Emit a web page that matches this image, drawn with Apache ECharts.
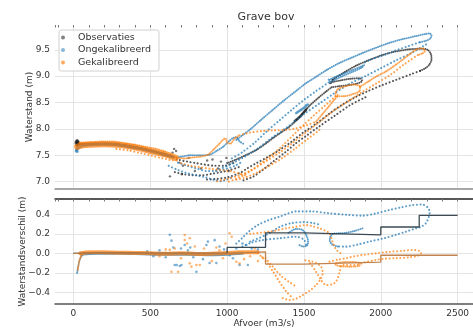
<!DOCTYPE html>
<html><head><meta charset="utf-8">
<script src="https://cdn.jsdelivr.net/npm/echarts@6/dist/echarts.min.js"></script>
<style>html,body{margin:0;padding:0;background:#fff}#c{width:473px;height:331px}</style>
</head><body><div id="c"></div>
<script>
const chartTitle = 'Grave bov';
const seriesNames = ['Observaties', 'Ongekalibreerd', 'Gekalibreerd'];
const xName = 'Afvoer (m3/s)';
const yNameTop = 'Waterstand (m)';
const yNameBot = 'Waterstandsverschil (m)';

// ---------- top panel: Observaties ----------
const obsTopStart = [[16,7.73],[18,7.76],[20,7.70],[21,7.75],[23,7.78],[24,7.72],[26,7.68],[27,7.74],[29,7.77],[30,7.71],[33,7.74]];
const obsTopBand = [[30,7.71],[80,7.71],[150,7.72],[230,7.72],[300,7.70],[360,7.67],[420,7.64],[480,7.60],[540,7.56],[600,7.51],[650,7.47]];
const obsTopMidA = [[630,7.5],[680,7.42],[740,7.38],[800,7.35],[860,7.32],[920,7.3],[980,7.3],[1040,7.35]];
const obsTopMidB = [[660,7.18],[720,7.14],[780,7.12],[840,7.12],[900,7.15],[960,7.18],[1020,7.22],[1080,7.28]];
const obsTopMidDots = [[628,7.1],[645,7.55],[655,7.62],[668,7.58],[690,7.36],[705,7.14],[712,7.3],[750,7.45],[790,7.2],[830,7.25],[870,7.4],[905,7.42],[940,7.25],[960,7.38],[995,7.45],[1010,7.2]];
const obsTopRise = [[1000,7.35],[1060,7.42],[1120,7.5],[1190,7.6],[1250,7.72],[1300,7.83],[1350,7.93],[1400,8.03],[1450,8.16],[1500,8.32],[1540,8.45],[1590,8.58],[1640,8.70],[1680,8.79]];
const obsTopLoop = [[1680,8.79],[1730,8.81],[1790,8.83],[1845,8.86],[1878,8.91],[1865,8.96],[1800,8.95],[1740,8.92],[1690,8.89],[1668,8.86],[1690,8.94]];
const obsTopUpper = [[1690,8.94],[1760,9.07],[1840,9.2],[1920,9.3],[2010,9.4],[2100,9.47],[2190,9.51],[2260,9.52],[2305,9.5],[2326,9.42],[2330,9.32],[2316,9.22],[2290,9.15],[2255,9.1]];
const obsTopBlob = [[1440,8.15],[1470,8.22],[1495,8.3],[1515,8.37]];
const obsTopFallA = [[2255,9.1],[2200,9.04],[2100,8.93],[2010,8.83],[1920,8.72],[1840,8.61],[1750,8.46],[1670,8.30],[1580,8.10],[1490,7.92],[1420,7.76],[1340,7.60],[1260,7.46],[1190,7.35],[1130,7.25],[1080,7.16],[1000,7.08],[930,7.05],[860,7.04]];
const obsTopFallB = [[1900,8.6],[1800,8.45],[1700,8.25],[1600,8.05],[1520,7.88],[1449,7.73],[1380,7.56],[1300,7.38],[1230,7.22],[1166,7.09],[1100,7.02]];

// ---------- top panel: Ongekalibreerd ----------
const uncTopStart = [[18,7.58],[20,7.6],[22,7.63],[25,7.57]];
const uncTopBand = [[25,7.62],[50,7.67],[100,7.70],[200,7.71],[300,7.69],[400,7.64],[500,7.58],[580,7.52],[640,7.47]];
const uncTopMid = [[600,7.52],[650,7.46],[700,7.47],[760,7.5],[820,7.5],[886,7.51],[930,7.58],[973,7.66],[1010,7.76],[1040,7.83],[1062,7.84],[1082,7.76],[1105,7.72]];
const uncTopMidLow = [[620,7.3],[680,7.22],[740,7.16],[800,7.12],[860,7.08],[920,7.03],[960,7.01],[1000,7.04],[1040,7.1]];
const uncTopMidLow2 = [[680,7.36],[740,7.3],[800,7.25],[865,7.2],[930,7.2],[990,7.24],[1050,7.3],[1100,7.38]];
const uncTopRise = [[1060,7.79],[1100,7.88],[1146,7.98],[1220,8.17],[1297,8.36],[1370,8.54],[1449,8.72],[1510,8.86],[1580,8.99],[1650,9.12],[1731,9.25],[1810,9.35],[1882,9.44],[1970,9.54],[2055,9.63],[2140,9.7],[2229,9.76],[2290,9.8],[2318,9.81],[2330,9.77],[2320,9.71],[2294,9.67],[2250,9.64]];
const uncTopReturn = [[2250,9.64],[2180,9.57],[2099,9.49],[2040,9.42],[1990,9.37],[1930,9.31],[1882,9.24]];
const uncTopLoop = [[1666,8.93],[1700,8.98],[1760,9.05],[1820,9.12],[1870,9.18],[1892,9.21],[1875,9.16],[1815,9.08],[1750,9.0],[1700,8.93],[1672,8.89],[1660,8.94]];
const uncTopFallA = [[2294,9.6],[2200,9.44],[2100,9.3],[2000,9.15],[1900,9.0],[1800,8.86],[1700,8.68],[1600,8.48],[1500,8.28],[1400,8.05],[1300,7.85],[1200,7.63],[1100,7.45],[1000,7.3],[920,7.2]];
const uncTopFallB = [[1660,8.88],[1580,8.72],[1500,8.55],[1420,8.36],[1340,8.16],[1260,7.96],[1180,7.74],[1100,7.56],[1030,7.44]];
const uncTopBlob = [[1450,8.3],[1475,8.35],[1500,8.4],[1525,8.46],[1512,8.44]];

// ---------- top panel: Gekalibreerd ----------
const calTopBand = [[24,7.66],[60,7.69],[120,7.70],[200,7.71],[280,7.70],[360,7.67],[430,7.63],[500,7.58],[560,7.54],[620,7.5],[665,7.45]];
const calTopBandHigh = [[40,7.74],[110,7.75],[190,7.76],[260,7.76],[330,7.73],[400,7.7],[470,7.66],[540,7.62],[600,7.57]];
const calTopBandLow = [[280,7.62],[360,7.59],[440,7.54],[510,7.49],[570,7.45],[630,7.41],[680,7.4]];
const calTopMid = [[660,7.46],[720,7.44],[780,7.46],[840,7.48],[880,7.52],[915,7.62],[950,7.72],[975,7.8],[990,7.82],[1000,7.74],[1020,7.72],[1050,7.82],[1081,7.88]];
const calTopShelf = [[1081,7.88],[1150,7.93],[1232,7.96],[1300,7.97],[1384,7.98],[1449,8.01],[1520,8.07],[1579,8.14]];
const calTopRise = [[1579,8.14],[1620,8.28],[1660,8.42],[1700,8.56],[1720,8.62]];
const calTopLoop = [[1705,8.62],[1760,8.62],[1820,8.66],[1862,8.72],[1865,8.8],[1820,8.84],[1760,8.8],[1720,8.75],[1705,8.68],[1720,8.64]];
const calTopPeak = [[1865,8.8],[1920,8.9],[1969,8.99],[2034,9.09],[2090,9.2],[2141,9.31],[2190,9.42],[2229,9.5],[2261,9.53],[2282,9.51],[2286,9.47],[2270,9.43],[2240,9.4]];
const calTopFallA = [[2240,9.4],[2150,9.22],[2060,9.02],[1970,8.86],[1880,8.7],[1790,8.53],[1700,8.36],[1610,8.15],[1520,7.95],[1430,7.74],[1340,7.55],[1250,7.38],[1160,7.22],[1080,7.12],[1000,7.05],[920,7.0]];
const calTopFallB = [[1705,8.62],[1640,8.45],[1570,8.27],[1500,8.08],[1430,7.88],[1360,7.68],[1290,7.5],[1220,7.35],[1150,7.2],[1080,7.08],[1010,7.0]];
const calTopFallC = [[1600,7.98],[1520,7.8],[1440,7.62],[1360,7.45],[1280,7.31],[1200,7.18],[1120,7.08],[1050,7.03]];
const calTopMidLow = [[700,7.35],[760,7.3],[830,7.27],[900,7.24],[960,7.22],[1020,7.2],[1080,7.15],[1125,7.11]];

// ---------- bottom panel: Ongekalibreerd ----------
const uncBotHook = [[24,-0.2],[28,-0.16],[33,-0.12],[38,-0.08],[45,-0.05],[52,-0.03],[62,-0.01]];
const uncBotBand = [[50,-0.01],[150,0.0],[300,0.0],[450,-0.005],[600,-0.01],[750,-0.01],[900,-0.015],[1000,-0.01],[1100,0.0]];
const uncBotDots = [[627,0.19],[638,0.13],[650,0.06],[659,-0.12],[672,-0.12],[692,-0.13],[703,-0.12],[724,0.085],[745,0.03],[780,-0.04],[800,-0.19],[843,-0.06],[865,0.085],[875,0.12],[886,-0.1],[919,0.135],[930,-0.1],[951,0.07],[980,0.04],[1016,-0.02],[1038,-0.05],[1060,0.05],[1081,-0.12],[1100,0.1],[1125,0.085],[1135,-0.12],[1160,0.05],[1200,0.04],[560,0.03],[520,-0.03],[480,0.02],[600,-0.04],[700,0.05],[760,0.06]];
const uncBotArcA = [[1060,0.1],[1100,0.16],[1146,0.23],[1200,0.29],[1270,0.34],[1341,0.376],[1400,0.41],[1449,0.43],[1550,0.43],[1666,0.41],[1780,0.395],[1882,0.386],[1970,0.41],[2055,0.444],[2130,0.47],[2207,0.495],[2271,0.5],[2305,0.47],[2318,0.42],[2312,0.37],[2294,0.31],[2260,0.27],[2229,0.256],[2160,0.22],[2099,0.19],[2010,0.15],[1925,0.12],[1850,0.09],[1774,0.068],[1720,0.07]];
const uncBotHookR = [[1720,0.07],[1685,0.09],[1668,0.13],[1672,0.17],[1690,0.2],[1730,0.205],[1774,0.21],[1830,0.23],[1882,0.256]];
const uncBotArcB = [[1150,0.12],[1255,0.19],[1341,0.27],[1420,0.31],[1500,0.32],[1560,0.31],[1610,0.29]];
const uncBotLoop = [[1400,0.21],[1449,0.25],[1490,0.24],[1514,0.19],[1527,0.12],[1520,0.08],[1492,0.07],[1465,0.09]];
const uncBotArcD = [[1100,0.07],[1160,0.11],[1232,0.136],[1341,0.154],[1449,0.17],[1500,0.14],[1514,0.085]];

// ---------- bottom panel: Gekalibreerd ----------
const calBotHook = [[28,-0.17],[32,-0.13],[38,-0.08],[45,-0.045],[55,-0.015],[70,0.005]];
const calBotBand = [[45,0.0],[100,0.012],[200,0.012],[300,0.006],[400,0.004],[500,0.0],[600,-0.004],[700,0.0],[800,-0.006],[900,-0.004],[1000,0.002],[1100,0.01],[1200,0.01]];
const calBotDots = [[627,0.035],[638,-0.19],[660,0.05],[681,-0.19],[724,0.136],[724,0.188],[740,0.1],[757,0.154],[757,-0.103],[768,-0.137],[790,0.07],[800,-0.12],[822,-0.12],[850,0.05],[900,-0.08],[930,0.06],[973,-0.051],[990,0.1],[1016,0.205],[1030,0.17],[1060,-0.086],[1081,-0.103],[1110,-0.06],[1150,-0.03],[1180,0.05],[1200,-0.08],[1230,-0.04],[560,-0.03],[600,0.04],[700,-0.05],[950,0.03]];
const calBotUpper = [[1150,0.2],[1276,0.222],[1384,0.256],[1449,0.273],[1514,0.29],[1560,0.275],[1601,0.256],[1640,0.23],[1666,0.205],[1680,0.15],[1695,0.08],[1715,0.03],[1740,0.0]];
const calBotRight = [[1666,-0.086],[1720,-0.065],[1774,-0.05],[1830,-0.03],[1882,-0.017],[1970,0.0],[2055,0.016],[2140,0.025],[2207,0.034],[2250,0.025],[2262,0.0],[2240,-0.025],[2190,-0.04],[2099,-0.05],[2030,-0.055],[1969,-0.068],[1900,-0.09],[1839,-0.12],[1780,-0.12],[1740,-0.12]];
const calBotLoop = [[1709,-0.1],[1760,-0.09],[1820,-0.09],[1860,-0.1],[1862,-0.125],[1800,-0.137],[1740,-0.132],[1709,-0.12],[1700,-0.105]];
const calBotDrop1 = [[1200,0.0],[1255,-0.086],[1300,-0.19],[1340,-0.29],[1384,-0.39],[1420,-0.45]];
const calBotDrop2 = [[1250,-0.05],[1297,-0.137],[1350,-0.23],[1400,-0.29],[1449,-0.34]];
const calBotDrop3 = [[1362,-0.46],[1406,-0.479],[1450,-0.465],[1492,-0.428],[1540,-0.38],[1579,-0.325],[1610,-0.26],[1622,-0.2],[1612,-0.14],[1580,-0.1],[1540,-0.08],[1500,-0.07]];
const calBotDrop4 = [[1540,-0.1],[1579,-0.19],[1610,-0.27],[1644,-0.325],[1680,-0.32],[1709,-0.29],[1731,-0.2],[1740,-0.13]];

// ---------- step corrections ----------
const stepEdges = [0, 1000, 1250, 1500, 2000, 2250, 2500];
const stepUnc = [0.0, 0.06, 0.21, 0.19, 0.27, 0.39];
const stepCal = [0.0, 0.015, -0.11, -0.09, -0.02, -0.02];

// ---------- styling / building ----------
const COL = {
  obs: 'rgba(30,30,30,0.75)',
  unc: 'rgba(31,119,180,0.72)',
  cal: 'rgba(255,127,14,0.72)'
};
function path(name, data, bottom, color, kind) {
  const ls = {color: color, cap: 'round', join: 'round'};
  if (kind === 'dots') { ls.width = 2.1; ls.type = [0.01, 3.6]; }
  else if (kind === 'dense') { ls.width = 2.0; ls.type = [0.01, 2.0]; }
  else { ls.width = kind; ls.type = 'solid'; }
  return {type: 'line', name: name, data: data, xAxisIndex: bottom ? 2 : 0, yAxisIndex: bottom ? 1 : 0,
    showSymbol: false, symbol: 'none', smooth: 0.3, lineStyle: ls, silent: true, animation: false};
}
function pts(name, data, bottom, color, size) {
  return {type: 'scatter', name: name, data: data, xAxisIndex: bottom ? 2 : 0, yAxisIndex: bottom ? 1 : 0,
    symbolSize: size || 2.6, itemStyle: {color: color}, silent: true, animation: false};
}
function stepSeries(name, vals, color) {
  const d = stepEdges.map((x, i) => [x, vals[Math.min(i, vals.length - 1)]]);
  return {type: 'line', name: name, data: d, step: 'end', xAxisIndex: 2, yAxisIndex: 1, showSymbol: false,
    symbol: 'none', lineStyle: {color: color, width: 1.3}, silent: true, z: 5, animation: false};
}
const [N0, N1, N2] = seriesNames;
const series = [
  pts(N0, obsTopStart, false, COL.obs, 3),
  path(N0, obsTopBand, false, COL.obs, 3),
  path(N0, obsTopMidA, false, COL.obs, 'dots'),
  path(N0, obsTopMidB, false, COL.obs, 'dots'),
  pts(N0, obsTopMidDots, false, COL.obs, 2.4),
  path(N0, obsTopRise, false, COL.obs, 'dense'),
  path(N0, obsTopLoop, false, COL.obs, 'dense'),
  path(N0, obsTopUpper, false, COL.obs, 'dense'),
  path(N0, obsTopBlob, false, COL.obs, 2.5),
  path(N0, obsTopFallA, false, COL.obs, 'dots'),
  path(N0, obsTopFallB, false, COL.obs, 'dots'),

  pts(N1, uncTopStart, false, COL.unc, 3),
  path(N1, uncTopBand, false, COL.unc, 3),
  path(N1, uncTopMid, false, COL.unc, 'dense'),
  path(N1, uncTopMidLow, false, COL.unc, 'dots'),
  path(N1, uncTopMidLow2, false, COL.unc, 'dots'),
  path(N1, uncTopRise, false, COL.unc, 'dense'),
  path(N1, uncTopReturn, false, COL.unc, 'dots'),
  path(N1, uncTopLoop, false, COL.unc, 'dense'),
  path(N1, uncTopFallA, false, COL.unc, 'dots'),
  path(N1, uncTopFallB, false, COL.unc, 'dots'),
  path(N1, uncTopBlob, false, COL.unc, 2.5),

  path(N2, calTopBand, false, COL.cal, 6),
  path(N2, calTopBandHigh, false, COL.cal, 'dense'),
  path(N2, calTopBandLow, false, COL.cal, 'dots'),
  path(N2, calTopMid, false, COL.cal, 'dense'),
  path(N2, calTopShelf, false, COL.cal, 'dots'),
  path(N2, calTopRise, false, COL.cal, 'dense'),
  path(N2, calTopLoop, false, COL.cal, 'dense'),
  path(N2, calTopPeak, false, COL.cal, 'dense'),
  path(N2, calTopFallA, false, COL.cal, 'dots'),
  path(N2, calTopFallB, false, COL.cal, 'dots'),
  path(N2, calTopFallC, false, COL.cal, 'dots'),
  path(N2, calTopMidLow, false, COL.cal, 'dots'),

  path(N1, uncBotHook, true, COL.unc, 'dense'),
  path(N1, uncBotBand, true, COL.unc, 3),
  pts(N1, uncBotDots, true, COL.unc, 2.6),
  path(N1, uncBotArcA, true, COL.unc, 'dots'),
  path(N1, uncBotHookR, true, COL.unc, 'dense'),
  path(N1, uncBotArcB, true, COL.unc, 'dots'),
  path(N1, uncBotLoop, true, COL.unc, 'dense'),
  path(N1, uncBotArcD, true, COL.unc, 'dots'),

  path(N2, calBotHook, true, COL.cal, 'dense'),
  path(N2, calBotBand, true, COL.cal, 4),
  pts(N2, calBotDots, true, COL.cal, 2.6),
  path(N2, calBotUpper, true, COL.cal, 'dots'),
  path(N2, calBotRight, true, COL.cal, 'dots'),
  path(N2, calBotLoop, true, COL.cal, 'dense'),
  path(N2, calBotDrop1, true, COL.cal, 'dots'),
  path(N2, calBotDrop2, true, COL.cal, 'dots'),
  path(N2, calBotDrop3, true, COL.cal, 'dots'),
  path(N2, calBotDrop4, true, COL.cal, 'dots'),

  stepSeries('stap ongekalibreerd', stepUnc, 'rgba(40,55,65,0.9)'),
  stepSeries('stap gekalibreerd', stepCal, 'rgba(190,125,70,0.95)')
];

const TXT = '#333';
const gridColor = '#e4e4e4';
const xRange = {min: -120, max: 2600};
function fmtX(v) { return Math.abs(v % 500) < 1e-6 ? String(v) : ''; }
function fmtY(step) {
  return function (v) {
    const k = Math.round(v / step);
    if (Math.abs(v - k * step) > 1e-6) return '';
    return (k * step).toFixed(1).replace('-', '\u2212');
  };
}
const split = {show: true, showMinLine: false, showMaxLine: false, lineStyle: {color: gridColor, width: 1}};

const option = {
  animation: false,
  textStyle: {fontFamily: 'DejaVu Sans'},
  title: {text: chartTitle, left: 266, top: 12, textAlign: 'center', padding: 0,
    textStyle: {fontSize: 11, fontWeight: 'normal', color: TXT, fontFamily: 'DejaVu Sans'}},
  legend: {
    orient: 'vertical', left: 59, top: 30, padding: [2, 8, 3, 2], itemGap: 1.5,
    itemWidth: 20, itemHeight: 4, backgroundColor: 'rgba(255,255,255,0.85)',
    borderColor: '#d0d0d0', borderWidth: 1, borderRadius: 2,
    textStyle: {fontSize: 9.5, color: TXT, lineHeight: 11, fontFamily: 'DejaVu Sans'},
    data: [
      {name: N0, icon: 'circle', itemStyle: {color: 'rgba(60,60,60,0.8)'}},
      {name: N1, icon: 'circle', itemStyle: {color: 'rgba(31,119,180,0.65)'}},
      {name: N2, icon: 'circle', itemStyle: {color: 'rgba(255,127,14,0.65)'}}
    ]
  },
  grid: [
    {left: 55, top: 25, width: 419, height: 164},
    {left: 55, top: 199, width: 419, height: 105}
  ],
  xAxis: [
    Object.assign({type: 'value', gridIndex: 0, minInterval: 500, maxInterval: 500,
      axisLine: {show: true, onZero: false, lineStyle: {color: '#8a8a8a', width: 1.5}},
      axisTick: {show: false}, axisLabel: {show: false}, splitLine: split}, xRange),
    Object.assign({type: 'value', gridIndex: 0, position: 'top', minInterval: 100, maxInterval: 100,
      axisLine: {show: false}, axisTick: {show: true, inside: true, length: 2.5, lineStyle: {color: '#777'}},
      axisLabel: {show: false}, splitLine: {show: false}}, xRange),
    Object.assign({type: 'value', gridIndex: 1, position: 'bottom', minInterval: 500, maxInterval: 500,
      axisLine: {show: true, onZero: false, lineStyle: {color: '#555', width: 1.5}},
      axisTick: {show: false},
      axisLabel: {formatter: fmtX, fontSize: 9, color: TXT, margin: 5, showMinLabel: false, showMaxLabel: false},
      splitLine: split, name: xName, nameLocation: 'middle', nameGap: 15, nameMoveOverlap: false,
      nameTextStyle: {fontSize: 9, color: TXT}}, xRange),
    Object.assign({type: 'value', gridIndex: 1, position: 'top', minInterval: 100, maxInterval: 100,
      axisLine: {show: true, onZero: false, lineStyle: {color: '#222', width: 1.5}},
      axisTick: {show: true, inside: true, length: 2.5, lineStyle: {color: '#777'}},
      axisLabel: {show: false}, splitLine: {show: false}}, xRange)
  ],
  yAxis: [
    {type: 'value', gridIndex: 0, min: 6.86, max: 9.97, minInterval: 0.5, maxInterval: 0.5,
      axisLine: {show: false}, axisTick: {show: false},
      axisLabel: {formatter: fmtY(0.5), fontSize: 9, color: TXT, margin: 5, showMinLabel: false, showMaxLabel: false},
      splitLine: split, name: yNameTop, nameLocation: 'middle', nameGap: 21, nameMoveOverlap: false,
      nameTextStyle: {fontSize: 9, color: TXT}},
    {type: 'value', gridIndex: 1, min: -0.52, max: 0.557, minInterval: 0.2, maxInterval: 0.2,
      axisLine: {show: false}, axisTick: {show: false},
      axisLabel: {formatter: fmtY(0.2), fontSize: 9, color: TXT, margin: 5, showMinLabel: false, showMaxLabel: false},
      splitLine: split, name: yNameBot, nameLocation: 'middle', nameGap: 28, nameMoveOverlap: false,
      nameTextStyle: {fontSize: 9, color: TXT}}
  ],
  series: series
};
const chart = echarts.init(document.getElementById('c'), null, {renderer: 'canvas'});
chart.setOption(option);
</script></body></html>
